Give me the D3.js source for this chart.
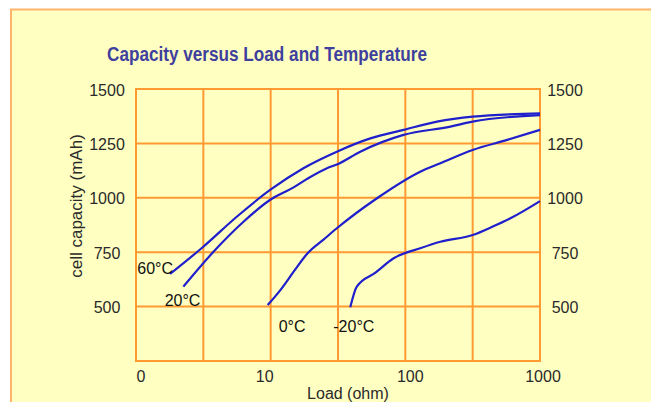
<!DOCTYPE html>
<html>
<head>
<meta charset="utf-8">
<script src="https://cdn.jsdelivr.net/npm/d3@7"></script>
<style>
  html, body { margin: 0; padding: 0; background: #ffffff; }
  svg { display: block; }
  text { font-family: "Liberation Sans", Arial, sans-serif; }
</style>
</head>
<body>
<script>
// ---- data ----
const title = "Capacity versus Load and Temperature";
const xTitle = "Load (ohm)";
const yTitle = "cell capacity (mAh)";
const seriesNames = ["60°C", "20°C", "0°C", "-20°C"];

const load60 = [1.79, 3.16, 5.6, 9.9, 17.5, 31, 55, 97, 172, 316, 1000];
const cap60  = [650, 775, 913, 1036, 1136, 1212, 1273, 1312, 1350, 1373, 1388];

const load20 = [2.25, 3.76, 6.28, 10, 14.8, 19, 26.2, 31, 46.3, 97, 216, 316, 1000];
const cap20  = [592, 752, 890, 992, 1048, 1090, 1136, 1153, 1212, 1289, 1327, 1350, 1380];

const load0 = [9.5, 11.8, 15, 18.6, 24.7, 31, 61.6, 129, 182, 316, 570, 1000];
const cap0  = [507, 576, 665, 742, 808, 860, 998, 1120, 1159, 1220, 1266, 1312];

const loadM20 = [39, 43.6, 60, 81.9, 129, 182, 316, 450, 603, 1000];
const capM20  = [497, 592, 656, 722, 768, 798, 829, 869, 906, 985];

const xTickValues = [1, 10, 100, 1000];
const xTickLabels = ["0", "10", "100", "1000"];
const xGridValues = [1, 3.1623, 10, 31.623, 100, 316.23, 1000];
const yTickValues = [500, 750, 1000, 1250, 1500];
const yGridValues = [250, 500, 750, 1000, 1250, 1500];

// ---- layout ----
const W = 651, H = 402;
const plot = { left: 136, right: 540, top: 89, bottom: 361 };
const xLabelNudge = [5, -6, 5, 3];

const svg = d3.select("body").append("svg")
  .attr("width", W).attr("height", H);

svg.append("rect").attr("x", 0).attr("y", 0).attr("width", W).attr("height", H).attr("fill", "#ffffff");
svg.append("rect")
  .attr("x", 11).attr("y", 9.5).attr("width", W + 20).attr("height", H + 20)
  .attr("fill", "#FFFFC2").attr("stroke", "#FFB36B").attr("stroke-width", 2);

const x = d3.scaleLog().domain([1, 1000]).range([plot.left, plot.right]);
const y = d3.scaleLinear().domain([250, 1500]).range([plot.bottom, plot.top]);

// title
svg.append("text")
  .attr("x", 107).attr("y", 60.5)
  .attr("font-size", 20).attr("font-weight", "bold")
  .attr("textLength", 320).attr("lengthAdjust", "spacingAndGlyphs")
  .attr("fill", "#3F3F9E")
  .text(title);

const gridColor = "#FF9A33";
const g = svg.append("g");

// grid lines
g.selectAll("line.h").data(yGridValues).join("line")
  .attr("x1", plot.left).attr("x2", plot.right)
  .attr("y1", d => y(d)).attr("y2", d => y(d))
  .attr("stroke", gridColor).attr("stroke-width", 2);
g.selectAll("line.v").data(xGridValues).join("line")
  .attr("x1", d => x(d)).attr("x2", d => x(d))
  .attr("y1", plot.top).attr("y2", plot.bottom)
  .attr("stroke", gridColor).attr("stroke-width", 2);
g.append("rect")
  .attr("x", plot.left).attr("y", plot.top)
  .attr("width", plot.right - plot.left).attr("height", plot.bottom - plot.top)
  .attr("fill", "none").attr("stroke", gridColor).attr("stroke-width", 2);

const textColor = "#2a2a2a";

// left y tick labels
svg.append("g").selectAll("text").data(yTickValues).join("text")
  .attr("x", 107).attr("y", d => y(d) + 1)
  .attr("text-anchor", "middle").attr("dominant-baseline", "central")
  .attr("font-size", 16).attr("fill", textColor)
  .text(d => d);
// right y tick labels
svg.append("g").selectAll("text").data(yTickValues).join("text")
  .attr("x", 565).attr("y", d => y(d) + 1)
  .attr("text-anchor", "middle").attr("dominant-baseline", "central")
  .attr("font-size", 16).attr("fill", textColor)
  .text(d => d);

// x tick labels
svg.append("g").selectAll("text").data(xTickValues).join("text")
  .attr("x", (d, i) => x(d) + xLabelNudge[i]).attr("y", 382)
  .attr("text-anchor", "middle")
  .attr("font-size", 16).attr("fill", textColor)
  .text((d, i) => xTickLabels[i]);

// axis titles
svg.append("text")
  .attr("x", 348).attr("y", 399)
  .attr("text-anchor", "middle")
  .attr("font-size", 16).attr("fill", textColor)
  .text(xTitle);
svg.append("text")
  .attr("transform", "translate(82,206) rotate(-90)")
  .attr("text-anchor", "middle")
  .attr("font-size", 17).attr("fill", textColor)
  .text(yTitle);

// curves
const series = [
  { name: seriesNames[0], loads: load60, caps: cap60, dx: 3, dy: 0, anchor: "end" },
  { name: seriesNames[1], loads: load20, caps: cap20, dx: 17, dy: 19, anchor: "end" },
  { name: seriesNames[2], loads: load0, caps: cap0, dx: 11, dy: 27, anchor: "start" },
  { name: seriesNames[3], loads: loadM20, caps: capM20, dx: -17, dy: 25, anchor: "start" }
];

const line = d3.line()
  .x(d => x(d[0])).y(d => y(d[1]))
  .curve(d3.curveMonotoneX);

series.forEach(s => {
  const pts = s.loads.map((l, i) => [l, s.caps[i]]);
  svg.append("path")
    .attr("d", line(pts))
    .attr("fill", "none")
    .attr("stroke", "#1F1FCC")
    .attr("stroke-width", 2.2)
    .attr("stroke-linejoin", "round");
  svg.append("text")
    .attr("x", x(pts[0][0]) + s.dx)
    .attr("y", y(pts[0][1]) + s.dy)
    .attr("text-anchor", s.anchor)
    .attr("font-size", 16).attr("fill", "#111")
    .text(s.name);
});
</script>
</body>
</html>
